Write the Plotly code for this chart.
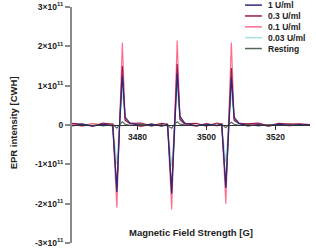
import plotly.graph_objects as go

# Magnetic field grid (G)
field = [3461, 3464, 3467, 3470, 3472.8,
         3474.0, 3474.8, 3475.6, 3476.4, 3477.8,
         3481, 3484, 3487, 3488.7,
         3489.9, 3490.7, 3491.5, 3492.3, 3493.7,
         3497, 3500, 3503, 3504.4,
         3505.6, 3506.4, 3507.2, 3508.0, 3509.4,
         3512, 3515, 3518, 3521, 3524, 3527, 3530]

# EPR intensity in units of 1e11
resting = [0.02, -0.02, 0.03, -0.01, 0.02,
           -0.08, 0.01, 0.08, 0.02, -0.01,
           0.02, -0.02, 0.01, -0.02,
           -0.08, 0.02, 0.08, 0.02, 0.01,
           -0.02, 0.02, -0.01, 0.02,
           -0.07, 0.01, 0.07, 0.02, -0.01,
           0.02, -0.02, 0.01, -0.01, 0.02, -0.01, 0.0]
u003 = [0.03, -0.02, 0.02, -0.03, 0.02,
        -1.00, 0.03, 0.90, 0.10, 0.02,
        -0.03, 0.02, -0.02, 0.03,
        -1.05, 0.02, 0.95, 0.10, 0.02,
        -0.02, 0.03, -0.02, 0.02,
        -0.95, 0.03, 0.90, 0.10, 0.02,
        -0.02, 0.02, -0.03, 0.02, -0.01, 0.02, 0.0]
u01 = [0.02, -0.03, 0.04, -0.02, 0.03,
       -2.10, 0.05, 2.10, 0.15, 0.03,
       -0.04, 0.03, -0.02, 0.02,
       -2.15, 0.02, 2.15, 0.18, 0.02,
       -0.03, 0.04, -0.02, 0.03,
       -2.00, 0.04, 2.10, 0.15, 0.03,
       -0.02, 0.03, -0.03, 0.02, -0.02, 0.01, 0.0]
u03 = [0.04, 0.02, -0.03, 0.05, 0.02,
       -1.60, 0.03, 1.50, 0.12, 0.04,
       0.05, -0.02, 0.04, 0.02,
       -1.65, 0.02, 1.55, 0.14, 0.03,
       0.04, -0.03, 0.05, 0.02,
       -1.55, 0.03, 1.45, 0.12, 0.04,
       0.03, 0.05, -0.02, 0.04, 0.02, 0.03, 0.01]
u1 = [-0.02, 0.02, -0.03, 0.02, -0.02,
      -1.70, -0.02, 1.25, 0.20, 0.05,
      -0.02, 0.02, -0.03, 0.01,
      -1.75, 0.00, 1.30, 0.22, 0.05,
      -0.02, 0.02, -0.01, 0.02,
      -1.60, -0.02, 1.20, 0.20, 0.04,
      -0.02, 0.01, -0.02, 0.02, -0.01, 0.01, 0.0]

series_names = ["1 U/ml", "0.3 U/ml", "0.1 U/ml", "0.03 U/ml", "Resting"]
series_vals = [u1, u03, u01, u003, resting]
series_colors = ["#2a2a78", "#9b1b4b", "#ff6e8e", "#a6e4de", "#566656"]

ytick_vals = [-3, -2, -1, 0, 1, 2, 3]
ytick_text = ["-3×10<sup>11</sup>", "-2×10<sup>11</sup>", "-1×10<sup>11</sup>", "0",
              "1×10<sup>11</sup>", "2×10<sup>11</sup>", "3×10<sup>11</sup>"]
xtick_vals = [3480, 3500, 3520]

fig = go.Figure()
draw_order = [4, 3, 2, 1, 0]
for i in draw_order:
    fig.add_trace(go.Scatter(x=field, y=series_vals[i], mode="lines", name=series_names[i],
                             line=dict(color=series_colors[i], width=1.2), showlegend=False))

FONT = "Liberation Sans"
fig.update_layout(
    width=316, height=249,
    margin=dict(l=72, r=6, t=7, b=6, autoexpand=False),
    paper_bgcolor="white", plot_bgcolor="white",
    font=dict(family=FONT, size=8, color="#222"),
    xaxis=dict(range=[3461, 3530], anchor="free", position=0.5, automargin=False,
               showline=True, linecolor="#333", linewidth=1.2,
               ticks="outside", ticklen=4, tickcolor="#333", tickwidth=1.2,
               tickvals=xtick_vals, showgrid=False, zeroline=False,
               tickfont=dict(family=FONT, size=8.5, weight="bold")),
    yaxis=dict(range=[-3, 3], domain=[0, 1], automargin=False,
               showline=True, linecolor="#8a8a8a", linewidth=2,
               ticks="outside", ticklen=5, tickcolor="#8a8a8a", tickwidth=1.5,
               tickvals=ytick_vals, ticktext=ytick_text,
               showgrid=False, zeroline=False,
               tickfont=dict(family=FONT, size=8.5, weight="bold")),
)

# y-axis title
fig.add_annotation(x=-0.245, y=0.51, xref="paper", yref="paper",
                   text="EPR intensity [CWH]", showarrow=False, textangle=-90,
                   font=dict(family=FONT, size=9.5, weight="bold"),
                   xanchor="center", yanchor="middle")

# x-axis title (axis sits at y=0, title at bottom)
fig.add_annotation(x=0.5, y=0.045, xref="paper", yref="paper",
                   text="Magnetic Field Strength [G]", showarrow=False,
                   font=dict(family=FONT, size=9.5, weight="bold"),
                   xanchor="center", yanchor="middle")

# compact legend
leg_y = [1.008, 0.962, 0.916, 0.870, 0.824]
for name, color, yy in zip(series_names, series_colors, leg_y):
    fig.add_shape(type="line", xref="paper", yref="paper",
                  x0=0.727, x1=0.798, y0=yy, y1=yy,
                  line=dict(color=color, width=1.5))
    fig.add_annotation(x=0.815, y=yy, xref="paper", yref="paper", text=name,
                       showarrow=False, xanchor="left", yanchor="middle",
                       font=dict(family=FONT, size=8.5, weight="bold"))

fig.write_html("out.html", config={"displayModeBar": False},
               post_script="document.body.style.margin='0';")
